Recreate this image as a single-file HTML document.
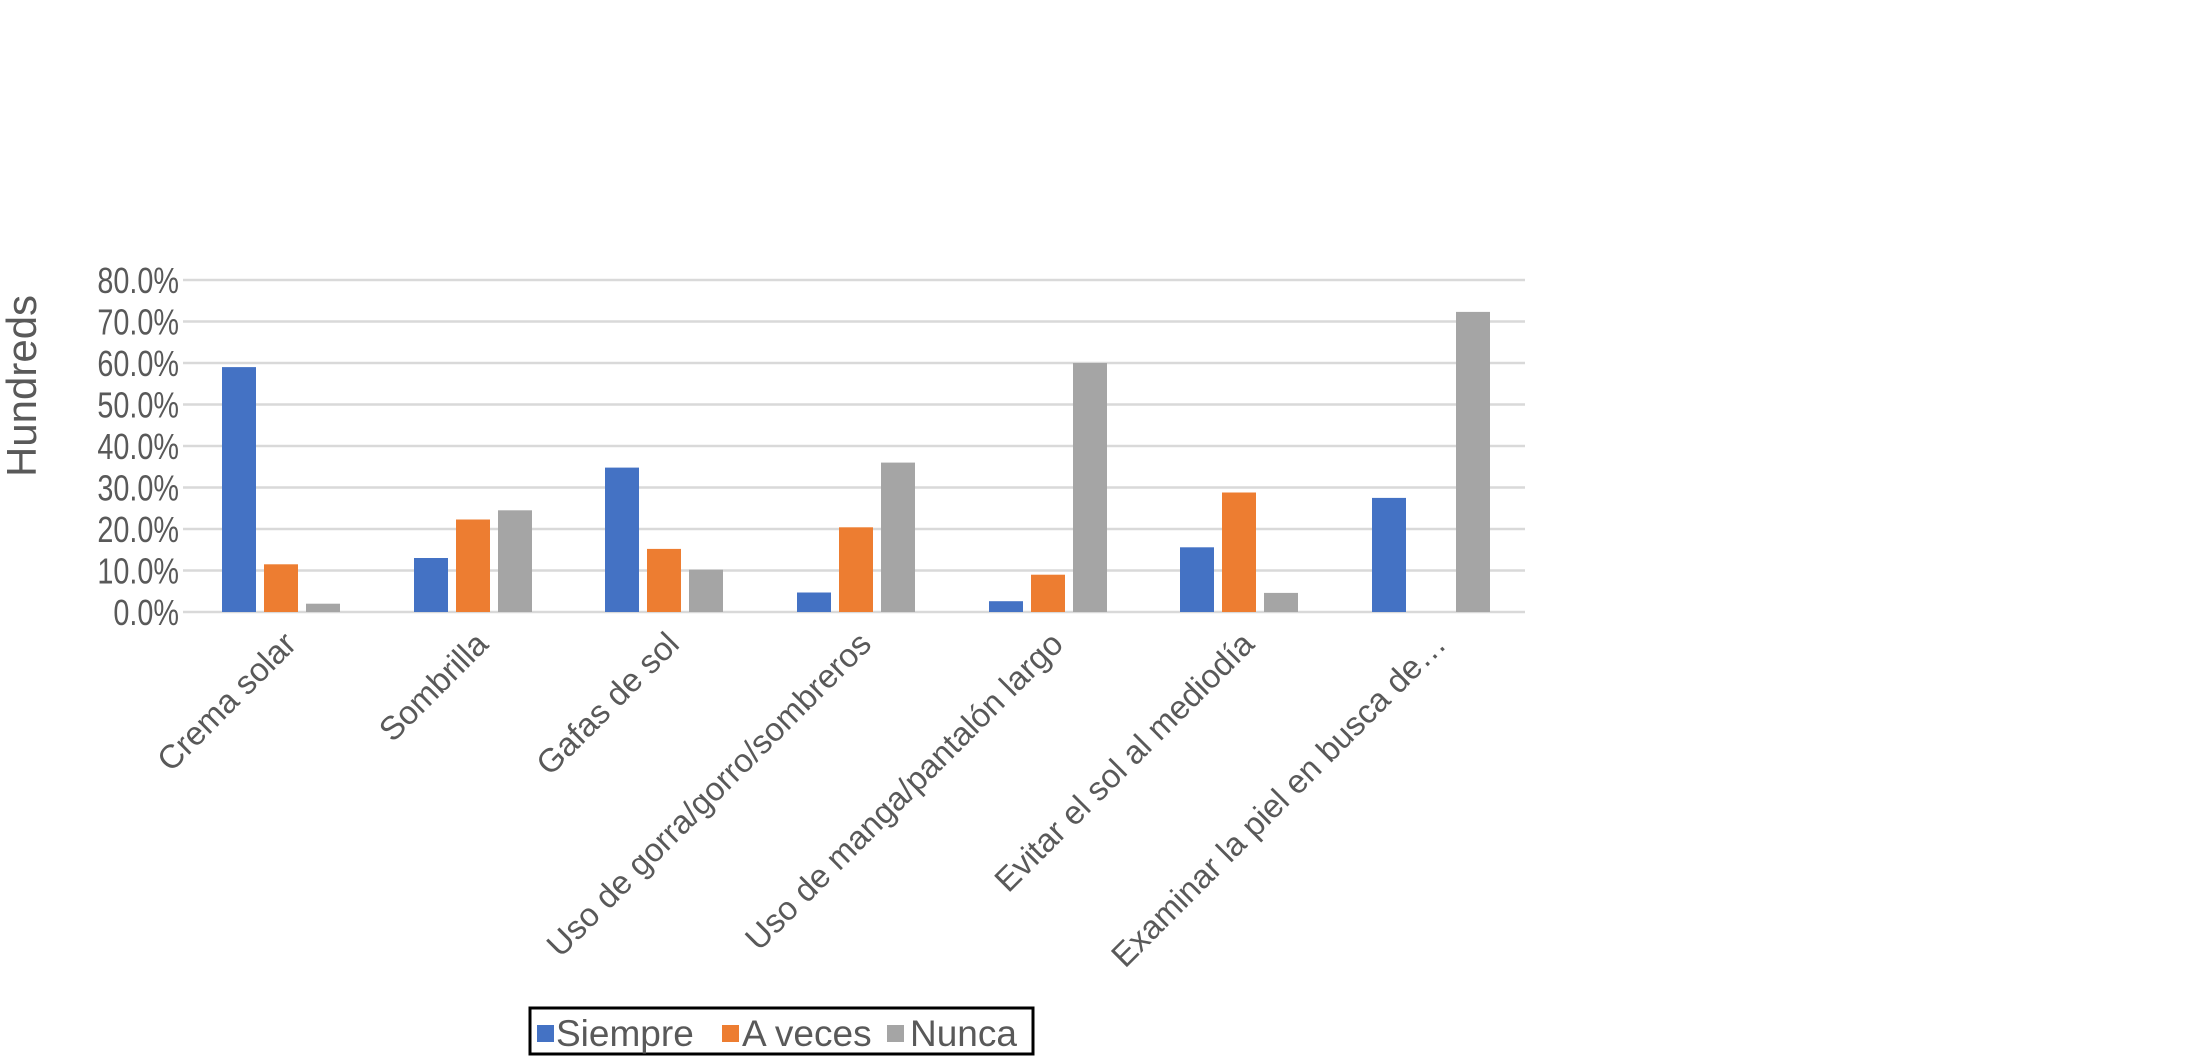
<!DOCTYPE html>
<html><head><meta charset="utf-8"><style>
html,body{margin:0;padding:0;background:#fff;}
svg{display:block;font-family:"Liberation Sans",sans-serif;}
</style></head><body>
<svg width="2197" height="1056" viewBox="0 0 2197 1056" xmlns="http://www.w3.org/2000/svg">
<rect width="2197" height="1056" fill="#fff"/>
<g stroke="#d9d9d9" stroke-width="2.5">
<line x1="183" x2="1525" y1="280" y2="280"/>
<line x1="183" x2="1525" y1="321.5" y2="321.5"/>
<line x1="183" x2="1525" y1="363" y2="363"/>
<line x1="183" x2="1525" y1="404.5" y2="404.5"/>
<line x1="183" x2="1525" y1="446" y2="446"/>
<line x1="183" x2="1525" y1="487.5" y2="487.5"/>
<line x1="183" x2="1525" y1="529" y2="529"/>
<line x1="183" x2="1525" y1="570.5" y2="570.5"/>
<line x1="183" x2="1525" y1="612" y2="612"/>
</g>
<g fill="#595959" font-size="36" text-anchor="end" transform="translate(179,0) scale(0.8,1)">
<text x="0" y="293">80.0%</text>
<text x="0" y="334.5">70.0%</text>
<text x="0" y="376">60.0%</text>
<text x="0" y="417.5">50.0%</text>
<text x="0" y="459">40.0%</text>
<text x="0" y="500.5">30.0%</text>
<text x="0" y="542">20.0%</text>
<text x="0" y="583.5">10.0%</text>
<text x="0" y="625">0.0%</text>
</g>
<text transform="translate(36,386) rotate(-90)" text-anchor="middle" font-size="42" fill="#595959">Hundreds</text>
<g fill="#4472C4">
<rect x="222" y="367.1" width="34" height="244.9"/>
<rect x="414" y="558" width="34" height="54"/>
<rect x="605" y="467.6" width="34" height="144.4"/>
<rect x="797" y="592.5" width="34" height="19.5"/>
<rect x="989" y="601.2" width="34" height="10.8"/>
<rect x="1180" y="547.3" width="34" height="64.7"/>
<rect x="1372" y="497.9" width="34" height="114.1"/>
</g>
<g fill="#ED7D31">
<rect x="264" y="564.3" width="34" height="47.7"/>
<rect x="456" y="519.5" width="34" height="92.5"/>
<rect x="647" y="548.9" width="34" height="63.1"/>
<rect x="839" y="527.3" width="34" height="84.7"/>
<rect x="1031" y="574.7" width="34" height="37.3"/>
<rect x="1222" y="492.5" width="34" height="119.5"/>
</g>
<g fill="#A5A5A5">
<rect x="306" y="603.7" width="34" height="8.3"/>
<rect x="498" y="510.3" width="34" height="101.7"/>
<rect x="689" y="569.7" width="34" height="42.3"/>
<rect x="881" y="462.6" width="34" height="149.4"/>
<rect x="1073" y="363" width="34" height="249"/>
<rect x="1264" y="592.9" width="34" height="19.1"/>
<rect x="1456" y="311.9" width="34" height="300.1"/>
</g>
<g fill="#595959" font-size="33" text-anchor="end">
<text transform="translate(298,646) rotate(-45)">Crema solar</text>
<text transform="translate(490,646) rotate(-45)">Sombrilla</text>
<text transform="translate(681,646) rotate(-45)">Gafas de sol</text>
<text transform="translate(873,646) rotate(-45)">Uso de gorra/gorro/sombreros</text>
<text transform="translate(1065,646) rotate(-45)">Uso de manga/pantalón largo</text>
<text transform="translate(1256,646) rotate(-45)">Evitar el sol al mediodía</text>
<text transform="translate(1448,646) rotate(-45)">Examinar la piel en busca de…</text>
</g>
<rect x="530" y="1008" width="503" height="46" fill="#fff" stroke="#000" stroke-width="3"/>
<rect x="537" y="1025" width="17" height="17" fill="#4472C4"/>
<rect x="722" y="1025" width="17" height="17" fill="#ED7D31"/>
<rect x="887" y="1025" width="17" height="17" fill="#A5A5A5"/>
<g fill="#595959" font-size="37">
<text x="556" y="1046">Siempre</text>
<text x="742" y="1046">A veces</text>
<text x="910" y="1046">Nunca</text>
</g>
</svg>
</body></html>
